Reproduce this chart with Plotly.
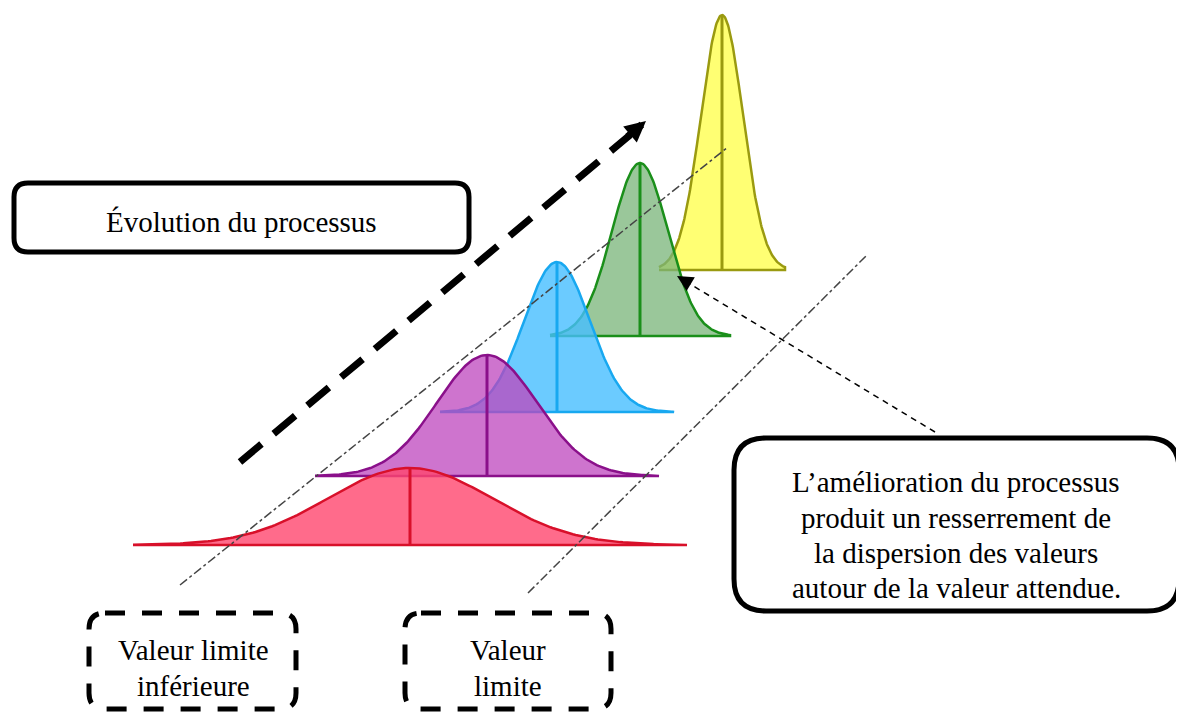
"""
Resserrement de la dispersion : courbes en cloche décalées + encadrés.
"""
import numpy as np
import plotly.graph_objects as go

# courbes (de l'arrière vers l'avant)
curve_names = ["jaune", "vert", "bleu", "violet", "rouge"]
centers = [722, 640, 557, 487, 410]
baselines = [270, 336, 412, 476, 545]
peaks = [15, 163, 262, 355, 468]
spreads = [21, 28, 33, 50, 82]
half_widths = [63, 90, 117, 172, 277]
fill_colors = ["rgba(255,255,90,0.85)", "rgba(120,180,120,0.75)",
               "rgba(70,190,255,0.8)", "rgba(190,70,190,0.75)",
               "rgba(255,70,110,0.8)"]
line_colors = ["#9a9a10", "#1a8f1a", "#18a8f0", "#8a108a", "#d8102a"]

# textes
title_text = "Évolution du processus"
note_lines = ["L’amélioration du processus", "produit un resserrement de",
              "la dispersion des valeurs", "autour de la valeur attendue."]
note_y = [482, 518, 553, 588]
low_label = ["Valeur limite", "inférieure"]
high_label = ["Valeur", "limite"]
label_y = [650, 686]

FONT = "Liberation Serif, Times New Roman, serif"
PAGE_MARGIN = 8  # marge du <body> de la page html

fig = go.Figure()

for i, name in enumerate(curve_names):
    c, b, p, s, hw = centers[i], baselines[i], peaks[i], spreads[i], half_widths[i]
    xs = np.linspace(c - hw, c + hw, 200)
    ys = b - (b - p) * np.exp(-0.5 * ((xs - c) / s) ** 2)
    fig.add_trace(go.Scatter(
        x=np.concatenate([xs, [c + hw, c - hw]]),
        y=np.concatenate([ys, [b, b]]),
        mode="lines", fill="toself",
        fillcolor=fill_colors[i],
        line=dict(color=line_colors[i], width=2.5),
        hoverinfo="skip", name=name,
    ))
    fig.add_trace(go.Scatter(
        x=[c, c], y=[b, p], mode="lines",
        line=dict(color=line_colors[i], width=3),
        hoverinfo="skip",
    ))


def rounded(x0, y0, x1, y1, r):
    return (f"M {x0 + r},{y0} L {x1 - r},{y0} Q {x1},{y0} {x1},{y0 + r} "
            f"L {x1},{y1 - r} Q {x1},{y1} {x1 - r},{y1} L {x0 + r},{y1} "
            f"Q {x0},{y1} {x0},{y1 - r} L {x0},{y0 + r} Q {x0},{y0} {x0 + r},{y0} Z")


shapes = [
    # lignes des limites
    dict(type="line", x0=180, y0=585, x1=728, y1=147,
         line=dict(color="#444444", width=1.5, dash="dashdot")),
    dict(type="line", x0=528, y0=593, x1=866, y1=256,
         line=dict(color="#444444", width=1.5, dash="dashdot")),
    # flèche épaisse en tirets
    dict(type="line", x0=240, y0=462, x1=630, y1=135,
         line=dict(color="black", width=7, dash="28px,16px")),
    # flèche fine en tirets
    dict(type="line", x0=935, y0=432, x1=690, y1=284,
         line=dict(color="black", width=1.5, dash="6px,5px")),
    # encadrés
    dict(type="path", path=rounded(14, 183, 469, 252, 14),
         line=dict(color="black", width=5), fillcolor="white"),
    dict(type="path", path=rounded(734, 438, 1179, 611, 32),
         line=dict(color="black", width=5), fillcolor="white"),
    dict(type="path", path=rounded(89, 613, 296, 709, 16),
         line=dict(color="black", width=5, dash="20px,17px")),
    dict(type="path", path=rounded(405, 613, 611, 709, 16),
         line=dict(color="black", width=5, dash="20px,17px")),
]
for s in shapes:
    s.update(xref="x", yref="y", layer="above")

text_font = dict(family=FONT, size=29, color="black")
annotations = [
    dict(x=646, y=121, ax=626, ay=138, axref="x", ayref="y",
         showarrow=True, arrowhead=2, arrowsize=0.6, arrowwidth=7,
         arrowcolor="black", text=""),
    dict(x=677, y=276, ax=692, ay=285, axref="x", ayref="y",
         showarrow=True, arrowhead=2, arrowsize=1.6, arrowwidth=2,
         arrowcolor="black", text=""),
    dict(x=241, y=222, text=title_text, showarrow=False, font=text_font),
]
for line, y in zip(note_lines, note_y):
    annotations.append(dict(x=956, y=y, text=line, showarrow=False, font=text_font))
for line, y in zip(low_label, label_y):
    annotations.append(dict(x=193, y=y, text=line, showarrow=False, font=text_font))
for line, y in zip(high_label, label_y):
    annotations.append(dict(x=508, y=y, text=line, showarrow=False, font=text_font))

fig.update_layout(
    width=1184 - PAGE_MARGIN, height=713 - PAGE_MARGIN,
    margin=dict(l=0, r=0, t=0, b=0),
    paper_bgcolor="white", plot_bgcolor="white",
    showlegend=False,
    xaxis=dict(range=[PAGE_MARGIN, 1184], visible=False, fixedrange=True),
    yaxis=dict(range=[713, PAGE_MARGIN], visible=False, fixedrange=True),
    shapes=shapes, annotations=annotations,
)

fig.write_html("out.html")
